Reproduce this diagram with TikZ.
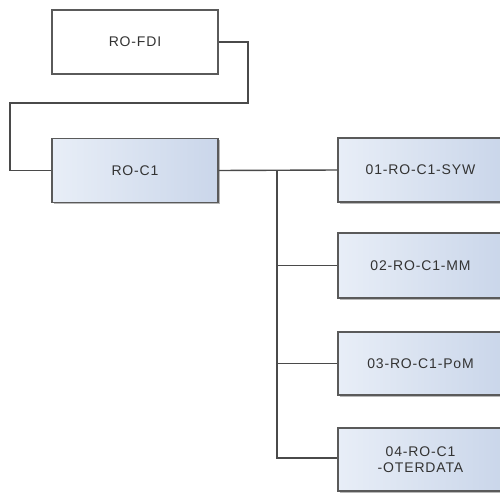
\documentclass[tikz,border=0pt]{standalone}
\usepackage{fontspec}
\setmainfont{Liberation Sans}
\usetikzlibrary{shadows}
\definecolor{boxline}{HTML}{5A5A5A}
\definecolor{wire}{HTML}{4A4A4A}
\definecolor{lblue}{HTML}{E8EEF7}
\definecolor{dblue}{HTML}{CAD6EA}
\definecolor{txt}{HTML}{333333}
\tikzset{
  boxbase/.style={draw=boxline, line width=1.3pt, minimum width=166pt, minimum height=64pt,
    inner sep=0pt, align=center, text=txt,
    font=\fontsize{14}{16.5}\selectfont\addfontfeature{LetterSpace=6}},
  plainbox/.style={boxbase, fill=white},
  bluebox/.style={boxbase, left color=lblue, right color=dblue,
    drop shadow={shadow xshift=1.5pt, shadow yshift=-1.8pt, fill=gray!70, opacity=0.8}},
  wireline/.style={draw=wire, line width=1.4pt}
}
\begin{document}
\begin{tikzpicture}[x=1pt,y=-1pt]
\useasboundingbox (0,0) rectangle (500,492);
\clip (0,0) rectangle (500,492);
\node[plainbox] (fdi) at (135,42) {RO-FDI};
\node[bluebox] (c1) at (135,170.5) {RO-C1};
\node[bluebox, minimum width=165pt] (s1) at (420.5,170) {01-RO-C1-SYW};
\node[bluebox, minimum width=165pt, minimum height=65pt] (s2) at (420.5,265.5) {02-RO-C1-MM};
\node[bluebox, minimum width=165pt, minimum height=63pt] (s3) at (420.5,363.5) {03-RO-C1-PoM};
\node[bluebox, minimum width=165pt, minimum height=63pt] (s4) at (420.5,459.5) {04-RO-C1\\-OTERDATA};
\coordinate (b1) at (248,42);
\coordinate (b2) at (248,103);
\coordinate (b3) at (10,103);
\coordinate (b4) at (10,170.5);
\draw[wireline] (fdi.east) -- (b1) -- (b2) -- (b3) -- (b4) -- (c1.west);
\coordinate (t0) at (277,170.5);
\coordinate (t4) at (277,458);
\draw[wireline] (c1.east) -- (s1.west);
\draw[wireline] (t0) -- (t4) -- (s4.west |- t4);
\draw[wireline] (t0 |- s2.west) -- (s2.west);
\draw[wireline] (t0 |- s3.west) -- (s3.west);
\end{tikzpicture}
\end{document}
